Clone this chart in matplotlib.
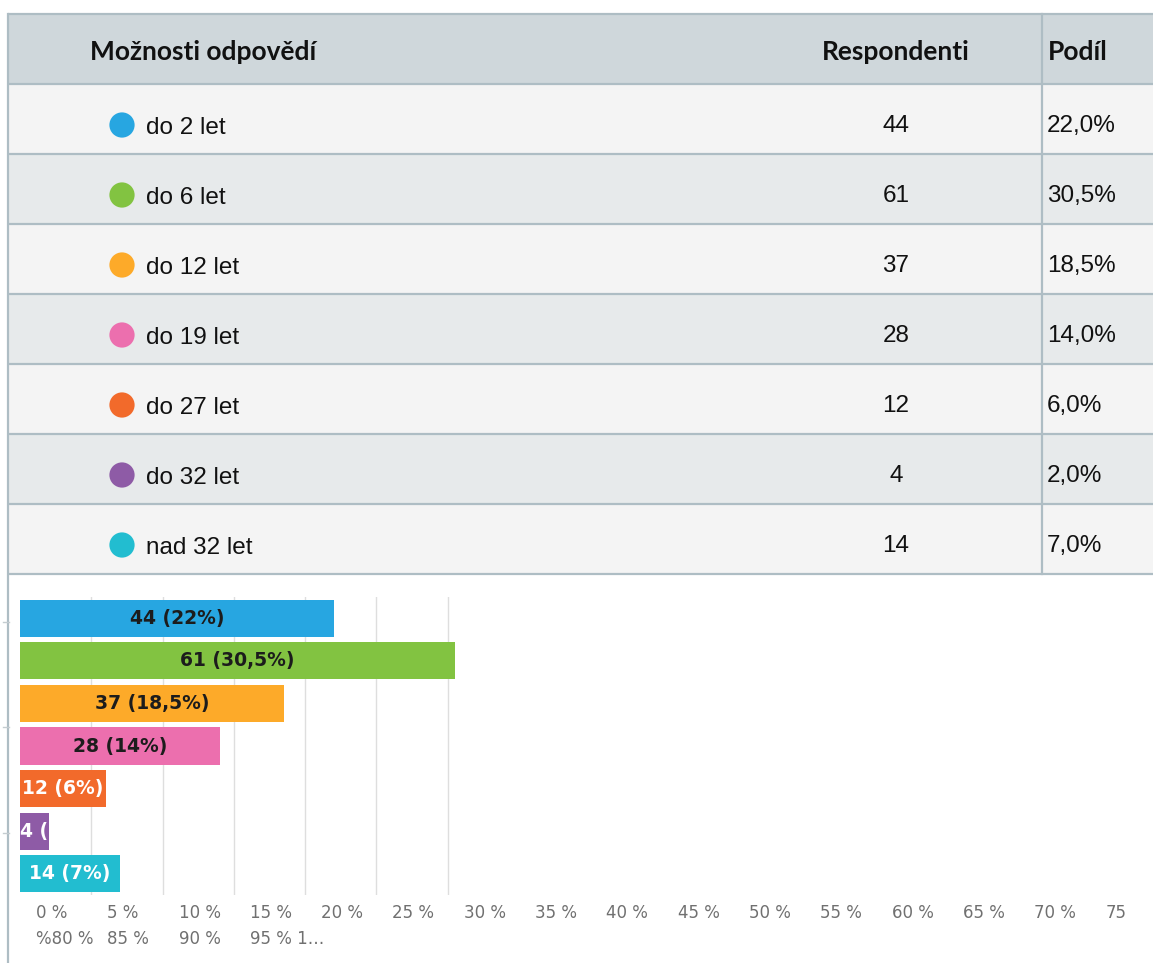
import matplotlib.pyplot as plt
from matplotlib.patches import Rectangle

# data z tabulky
moznosti = ["do 2 let", "do 6 let", "do 12 let", "do 19 let", "do 27 let", "do 32 let", "nad 32 let"]
respondenti = [44, 61, 37, 28, 12, 4, 14]
podil = [22.0, 30.5, 18.5, 14.0, 6.0, 2.0, 7.0]
barvy = ["#27a6e1", "#82c341", "#fdaa29", "#ec6fae", "#f26a2b", "#8e5ba6", "#22bdd0"]

hlavicka = ["Možnosti odpovědí", "Respondenti", "Podíl"]
osa_radek1 = ["0 %", "5 %", "10 %", "15 %", "20 %", "25 %", "30 %", "35 %",
              "40 %", "45 %", "50 %", "55 %", "60 %", "65 %", "70 %", "75"]
osa_radek2 = ["%80 %", "85 %", "90 %", "95 % 1…"]

W, H = 1153, 963
CARA = "#aebdc4"
PISMO_TAB = ["Liberation Sans Narrow", "Liberation Sans", "DejaVu Sans"]
PISMO_HL = ["Lato", "DejaVu Sans"]

fig = plt.figure(figsize=(W / 100, H / 100), dpi=100)
fig.patch.set_facecolor("white")

# plocha v pixelech pro tabulku
ax = fig.add_axes([0, 0, 1, 1])
ax.set_xlim(0, W)
ax.set_ylim(H, 0)
ax.axis("off")

x0 = 8
y_hl = 14
v_hl = 70
v_r = 70

ax.add_patch(Rectangle((x0, y_hl), W - x0, v_hl, fc="#cfd7db", ec="none"))
for i in range(len(moznosti)):
    y = y_hl + v_hl + v_r * i
    fc = "#f4f4f4" if i % 2 == 0 else "#e7eaeb"
    ax.add_patch(Rectangle((x0, y), W - x0, v_r, fc=fc, ec="none"))

y_konec = y_hl + v_hl + v_r * len(moznosti)
for i in range(len(moznosti) + 2):
    y = y_hl + (v_hl + v_r * (i - 1) if i > 0 else 0)
    ax.plot([x0, W], [y, y], color=CARA, lw=1.6, solid_capstyle="butt")
ax.plot([x0, x0], [y_hl, H], color=CARA, lw=1.6)
ax.plot([1042, 1042], [y_hl, y_konec], color=CARA, lw=1.6)

# hlavicka
yh = y_hl + 38
ax.text(90, yh, hlavicka[0], fontsize=19, fontweight="bold", family=PISMO_HL,
        va="center", ha="left", color="#111111")
ax.text(896, yh, hlavicka[1], fontsize=19, fontweight="bold", family=PISMO_HL,
        va="center", ha="center", color="#111111")
ax.text(1048, yh, hlavicka[2], fontsize=19, fontweight="bold", family=PISMO_HL,
        va="center", ha="left", color="#111111")

# radky
for i, (m, n, p, c) in enumerate(zip(moznosti, respondenti, podil, barvy)):
    yc = y_hl + v_hl + v_r * i + 41
    ax.scatter([122], [yc], s=330, color=c, edgecolors="none", zorder=3)
    ax.text(146, yc + 3, m, fontsize=17.5, family=PISMO_TAB, va="center", ha="left", color="#111111")
    ax.text(896, yc + 1, str(n), fontsize=17.5, family=PISMO_TAB, va="center", ha="center", color="#111111")
    ax.text(1047, yc + 1, f"{p:.1f}%".replace(".", ","), fontsize=17.5, family=PISMO_TAB,
            va="center", ha="left", color="#111111")

# drobne znacky na leve ose grafu
for y in [622, 727, 833]:
    ax.plot([3, 9], [y, y], color="#c4ccd0", lw=1)

# popisky osy (rozbity layout jako v originale)
for i, s in enumerate(osa_radek1):
    ax.text(36 + 71.3 * i, 913, s, fontsize=12, color="#707070", va="center", ha="left")
for i, s in enumerate(osa_radek2):
    ax.text(36 + 71.3 * i, 939, s, fontsize=12, color="#707070", va="center", ha="left")

# sloupcovy graf
ax2 = fig.add_axes([20 / W, (H - 895) / H, 449 / W, 298 / H])
ax2.set_facecolor("none")
pozice = list(range(len(podil)))
pruhy = ax2.barh(pozice, podil, height=0.87, color=barvy, zorder=2)
ax2.set_ylim(len(podil) - 0.5, -0.5)
ax2.set_xlim(0, 31.5)
ax2.set_xticks([5, 10, 15, 20, 25, 30])
ax2.set_yticks([])
ax2.tick_params(axis="x", length=0, labelbottom=False)
ax2.grid(axis="x", color="#dedede", lw=1, zorder=0)
ax2.set_axisbelow(True)
for s in ax2.spines.values():
    s.set_visible(False)

for i, (pruh, n, p) in enumerate(zip(pruhy, respondenti, podil)):
    popis = f"{n} ({p:g}%)".replace(".", ",")
    barva_t = "#1c1c1c" if p > 10 else "white"
    if p < 3:
        t = ax2.text(0, i, popis, ha="left", va="center", fontsize=13.5, fontweight="bold",
                     color=barva_t, zorder=3)
    else:
        t = ax2.text(p / 2, i, popis, ha="center", va="center", fontsize=13.5, fontweight="bold",
                     color=barva_t, zorder=3)
    t.set_clip_path(pruh)

fig.savefig("out.png", dpi=100)
